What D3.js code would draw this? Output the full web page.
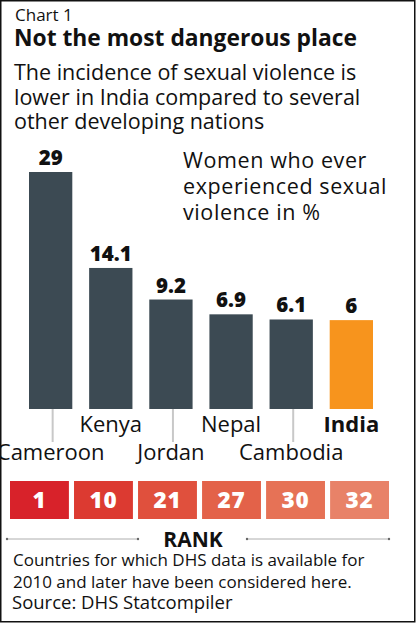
<!DOCTYPE html>
<html>
<head>
<meta charset="utf-8">
<script src="https://cdn.jsdelivr.net/npm/d3@7"></script>
<style>
  body { margin: 0; background: #fff; }
  svg text { font-family: "Open Sans", sans-serif; fill: #111; }
</style>
</head>
<body>
<svg id="chart" width="416" height="623"></svg>
<script>
// chart data
var countries = ["Cameroon", "Kenya", "Jordan", "Nepal", "Cambodia", "India"];
var values = [29, 14.1, 9.2, 6.9, 6.1, 6];
var ranks = [1, 10, 21, 27, 30, 32];
var rankColors = ["#d8222a", "#dc3a31", "#e0503d", "#e36249", "#e67256", "#e88268"];

var subtitle = ["The incidence of sexual violence is",
    "lower in India compared to several",
    "other developing nations"];
var legendLines = ["Women who ever", "experienced sexual", "violence in %"];
var notes = ["Countries for which DHS data is available for",
    "2010 and later have been considered here."];

var svg = d3.select("#chart");

// frame
svg.append("rect")
    .attr("x", 0.75).attr("y", 0.75)
    .attr("width", 414).attr("height", 621)
    .attr("fill", "none")
    .attr("stroke", "#111")
    .attr("stroke-width", 1.5);

// titles
svg.append("text").attr("x", 15).attr("y", 21)
    .style("font-size", "17px").text("Chart 1");
svg.append("text").attr("x", 14).attr("y", 46)
    .style("font-size", "22.8px").style("font-weight", "bold")
    .text("Not the most dangerous place");

svg.selectAll(".sub").data(subtitle).enter()
    .append("text")
    .attr("class", "sub")
    .attr("x", 14)
    .attr("y", (d, i) => 80 + i * 24.5)
    .style("font-size", "21.5px")
    .text(d => d);

// scales
var x = d3.scaleBand()
    .domain(countries)
    .range([29, 373])
    .paddingInner(0.28)
    .paddingOuter(0);

// the artist's bars don't start at zero
var y = d3.scaleLinear()
    .domain([-7.8, 29])
    .range([409, 172]);

var rows = countries.map((c, i) => ({ country: c, value: values[i], rank: ranks[i], i: i }));

// bars
svg.selectAll(".bar").data(rows).enter()
    .append("rect")
    .attr("class", "bar")
    .attr("x", d => x(d.country))
    .attr("y", d => y(d.value))
    .attr("width", x.bandwidth())
    .attr("height", d => y(-7.8) - y(d.value))
    .attr("fill", d => d.country == "India" ? "#f7941d" : "#3c4a53");

svg.selectAll(".val").data(rows).enter()
    .append("text")
    .attr("class", "val")
    .attr("x", d => x(d.country) + x.bandwidth() / 2)
    .attr("y", d => y(d.value) - 7)
    .attr("text-anchor", "middle")
    .style("font-size", "20.5px")
    .style("font-weight", "800")
    .text(d => d.value);

// leader lines for the lower labels
svg.selectAll(".lead").data(rows.filter(d => d.i % 2 == 0)).enter()
    .append("line")
    .attr("class", "lead")
    .attr("x1", d => x(d.country) + x.bandwidth() / 2 + 2)
    .attr("x2", d => x(d.country) + x.bandwidth() / 2 + 2)
    .attr("y1", y(-7.8))
    .attr("y2", 442)
    .attr("stroke", "#c8c8c8")
    .attr("stroke-width", 2);

svg.selectAll(".cat").data(rows).enter()
    .append("text")
    .attr("class", "cat")
    .attr("x", d => x(d.country) + x.bandwidth() / 2)
    .attr("y", d => d.i % 2 == 0 ? 460 : 432)
    .attr("text-anchor", "middle")
    .style("font-size", "22px")
    .style("font-weight", d => d.country == "India" ? "bold" : "normal")
    .text(d => d.country);

// legend note
svg.selectAll(".leg").data(legendLines).enter()
    .append("text")
    .attr("class", "leg")
    .attr("x", 183)
    .attr("y", (d, i) => 168 + i * 26)
    .style("font-size", "21.5px")
    .style("letter-spacing", "0.6px")
    .text(d => d);

// rank boxes
var xr = d3.scaleBand()
    .domain(countries)
    .range([10, 389])
    .paddingInner(0.08)
    .paddingOuter(0);

svg.selectAll(".rk").data(rows).enter()
    .append("rect")
    .attr("class", "rk")
    .attr("x", d => xr(d.country))
    .attr("y", 481)
    .attr("width", xr.bandwidth())
    .attr("height", 38)
    .attr("fill", (d, i) => rankColors[i]);

svg.selectAll(".rkt").data(rows).enter()
    .append("text")
    .attr("class", "rkt")
    .attr("x", d => xr(d.country) + xr.bandwidth() / 2)
    .attr("y", 508)
    .attr("text-anchor", "middle")
    .style("font-size", "22.5px")
    .style("font-weight", "800")
    .style("letter-spacing", "0.8px")
    .style("fill", "#fff")
    .text(d => d.rank);

// RANK caption with rules
svg.append("text").attr("x", 193).attr("y", 547)
    .attr("text-anchor", "middle")
    .style("font-size", "21px").style("font-weight", "bold")
    .text("RANK");
[[7, 138], [247, 389]].forEach(function (seg) {
    svg.append("line")
        .attr("x1", seg[0]).attr("x2", seg[1])
        .attr("y1", 539).attr("y2", 539)
        .attr("stroke", "#999").attr("stroke-width", 0.8);
    seg.forEach(function (px) {
        svg.append("circle").attr("cx", px).attr("cy", 539).attr("r", 1.2).attr("fill", "#666");
    });
});

// footnotes
svg.selectAll(".note").data(notes).enter()
    .append("text")
    .attr("class", "note")
    .attr("x", 13)
    .attr("y", (d, i) => 566 + i * 22)
    .style("font-size", "17px")
    .text(d => d);

svg.append("text").attr("x", 12).attr("y", 609)
    .style("font-size", "18.5px")
    .text("Source: DHS Statcompiler");
</script>
</body>
</html>
